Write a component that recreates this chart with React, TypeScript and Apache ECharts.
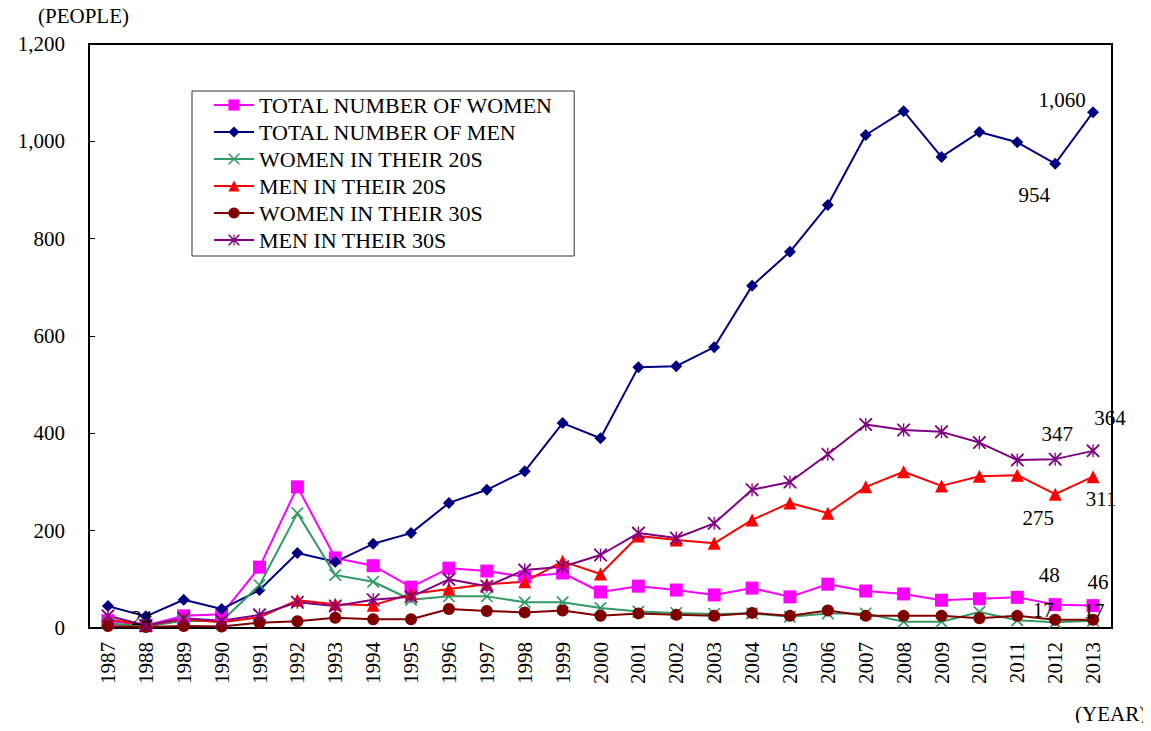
import React, { useEffect, useRef } from "react";
import * as echarts from "echarts";

const years = [
  "1987", "1988", "1989", "1990", "1991", "1992", "1993", "1994", "1995",
  "1996", "1997", "1998", "1999", "2000", "2001", "2002", "2003", "2004",
  "2005", "2006", "2007", "2008", "2009", "2010", "2011", "2012", "2013",
];

const womenTotal = [15, 5, 25, 28, 125, 290, 144, 128, 84, 123, 117, 105, 113, 74, 86, 78, 68, 82, 64, 90, 76, 70, 57, 60, 63, 48, 46];
const menTotal = [45, 24, 58, 39, 78, 154, 136, 173, 195, 257, 284, 322, 421, 390, 536, 538, 577, 703, 773, 869, 1013, 1062, 968, 1019, 998, 954, 1060];
const women20s = [10, 3, 15, 14, 88, 236, 109, 95, 58, 65, 65, 53, 53, 41, 34, 31, 29, 30, 23, 30, 30, 13, 13, 33, 16, 12, 15];
const men20s = [18, 5, 18, 12, 22, 57, 49, 47, 70, 80, 90, 95, 137, 111, 189, 181, 174, 222, 257, 236, 290, 321, 292, 312, 314, 275, 311];
const women30s = [4, 2, 4, 3, 11, 14, 21, 18, 18, 39, 35, 32, 36, 25, 30, 27, 25, 31, 25, 36, 25, 25, 25, 20, 25, 17, 17];
const men30s = [25, 5, 20, 15, 27, 53, 45, 58, 64, 100, 86, 119, 126, 150, 195, 185, 215, 284, 300, 357, 418, 407, 403, 381, 345, 347, 364];

const seriesNames = [
  "TOTAL NUMBER OF WOMEN",
  "TOTAL NUMBER OF MEN",
  "WOMEN IN THEIR 20S",
  "MEN IN THEIR 20S",
  "WOMEN IN THEIR 30S",
  "MEN IN THEIR 30S",
];
const seriesValues = [womenTotal, menTotal, women20s, men20s, women30s, men30s];

// annotated points: [seriesIndex, yearIndex, offsetX, offsetY]
const labelSpecs: [number, number, number, number][] = [
  [1, 26, -31, -12],
  [1, 25, -21, 31],
  [1, 1, -4, 2],
  [5, 26, 17, -33],
  [5, 25, 2, -25],
  [3, 26, 8, 22],
  [3, 25, -17, 24],
  [0, 25, -6, -30],
  [0, 26, 5, -24],
  [4, 25, -12, -10],
  [4, 26, 1, -9],
];

const CROSS =
  "path://M0,0 L2,0 L10,8 L18,0 L20,0 L20,2 L12,10 L20,18 L20,20 L18,20 L10,12 L2,20 L0,20 L0,18 L8,10 L0,2 Z";
const ASTER =
  "path://M0,0 L2,0 L10,8 L18,0 L20,0 L20,2 L12,10 L20,18 L20,20 L18,20 L10,12 L2,20 L0,20 L0,18 L8,10 L0,2 Z M9,0 L11,0 L11,20 L9,20 Z";

const styles = [
  { color: "#FF00FF", symbol: "rect", size: 13 },
  { color: "#000080", symbol: "diamond", size: 12 },
  { color: "#339966", symbol: CROSS, size: 12 },
  { color: "#FF0000", symbol: "triangle", size: 13 },
  { color: "#800000", symbol: "circle", size: 12 },
  { color: "#800080", symbol: ASTER, size: 13 },
];

const FONT = "Liberation Serif";
const FS = 21;

export default function App() {
  const ref = useRef<HTMLDivElement>(null);
  useEffect(() => {
    if (!ref.current) return;
    const chart = echarts.init(ref.current, null, { renderer: "svg" });
    const series = seriesValues.map((vals, si) => ({
      name: seriesNames[si],
      type: "line",
      symbol: styles[si].symbol,
      symbolSize: styles[si].size,
      itemStyle: { color: styles[si].color },
      lineStyle: { color: styles[si].color, width: 2 },
      data: vals,
      markPoint: {
        symbol: "circle",
        symbolSize: 0,
        silent: true,
        itemStyle: { color: "transparent" },
        label: {
          show: true,
          position: "inside",
          color: "#000",
          fontFamily: FONT,
          fontSize: FS,
          formatter: (p: any) => Number(p.value).toLocaleString("en-US"),
        },
        data: labelSpecs
          .filter((s) => s[0] === si)
          .map((s) => ({
            coord: [s[1], vals[s[1]]],
            value: vals[s[1]],
            label: { offset: [s[2], s[3]] },
          })),
      },
    }));
    chart.setOption({
      animation: false,
      backgroundColor: "#fff",
      textStyle: { fontFamily: FONT },
      grid: {
        left: 89,
        right: 39,
        top: 44,
        bottom: 103,
        show: true,
        borderColor: "#000",
        borderWidth: 2,
      },
      legend: {
        orient: "vertical",
        left: 192,
        top: 91,
        itemWidth: 40,
        itemHeight: 14,
        itemGap: 5,
        padding: [3, 21, 5, 21],
        borderColor: "#333",
        borderWidth: 1,
        backgroundColor: "#fff",
        textStyle: { fontFamily: FONT, fontSize: 22, color: "#000", lineHeight: 22 },
        data: seriesNames,
      },
      xAxis: {
        type: "category",
        data: years,
        boundaryGap: true,
        axisLine: { lineStyle: { color: "#000", width: 2 } },
        axisTick: { inside: true, length: 6, lineStyle: { color: "#000" } },
        axisLabel: {
          rotate: 90,
          interval: 0,
          margin: 14,
          fontFamily: FONT,
          fontSize: FS,
          color: "#000",
        },
      },
      yAxis: {
        type: "value",
        min: 0,
        max: 1200,
        interval: 200,
        splitLine: { show: false },
        axisLine: { show: true, lineStyle: { color: "#000", width: 2 } },
        axisTick: { show: true, inside: true, length: 6, lineStyle: { color: "#000" } },
        axisLabel: {
          margin: 24,
          fontFamily: FONT,
          fontSize: FS,
          color: "#000",
          formatter: (v: number) => v.toLocaleString("en-US"),
        },
      },
      graphic: [
        {
          type: "text",
          left: 38,
          top: 5,
          style: { text: "(PEOPLE)", fontFamily: FONT, fontSize: FS, fill: "#000" },
        },
        {
          type: "text",
          left: 1075,
          top: 703,
          style: { text: "(YEAR)", fontFamily: FONT, fontSize: FS, fill: "#000" },
        },
      ],
      series,
    });
    return () => chart.dispose();
  }, []);
  return <div ref={ref} style={{ width: 1151, height: 731, margin: -8 }} />;
}
